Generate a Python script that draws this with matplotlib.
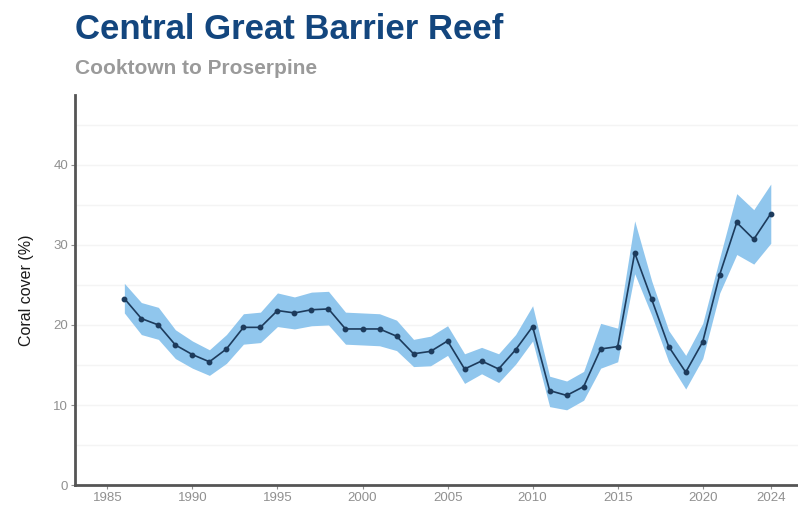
import numpy as np
import matplotlib.pyplot as plt

# Mean hard coral cover per survey year with its confidence band
years = np.arange(1986, 2025)
cover = [23.3, 20.8, 20.0, 17.5, 16.3, 15.4, 17.0, 19.7, 19.7, 21.8,
         21.5, 21.9, 22.0, 19.5, 19.5, 19.5, 18.6, 16.4, 16.7, 18.0,
         14.5, 15.5, 14.5, 16.9, 19.8, 11.8, 11.2, 12.3, 17.0, 17.3,
         29.0, 23.2, 17.3, 14.1, 17.9, 26.3, 32.8, 30.7, 33.9]
upper = [25.2, 22.8, 22.2, 19.4, 18.0, 16.9, 18.8, 21.4, 21.6, 24.0,
         23.5, 24.1, 24.2, 21.6, 21.5, 21.4, 20.6, 18.2, 18.6, 19.9,
         16.4, 17.2, 16.4, 18.8, 22.4, 13.6, 13.0, 14.2, 20.2, 19.6,
         33.0, 25.5, 19.3, 16.2, 20.2, 28.4, 36.4, 34.4, 37.6]
lower = [21.5, 18.8, 18.2, 15.8, 14.6, 13.7, 15.2, 17.6, 17.8, 19.8,
         19.5, 19.9, 20.0, 17.6, 17.5, 17.4, 16.8, 14.8, 14.9, 16.2,
         12.7, 13.9, 12.8, 15.1, 18.0, 9.8, 9.4, 10.6, 14.6, 15.4,
         26.4, 21.2, 15.4, 12.0, 15.8, 24.0, 28.8, 27.6, 30.2]
xticks = [1985, 1990, 1995, 2000, 2005, 2010, 2015, 2020, 2024]
yticks = [0, 10, 20, 30, 40]

plt.rcParams['font.family'] = ['Liberation Sans', 'DejaVu Sans']

fig = plt.figure(figsize=(7.98, 5.09), dpi=100)
ax = fig.add_axes([0.094, 0.047, 0.906, 0.766])

# faint horizontal guides
for g in np.arange(5, 50, 5):
    ax.axhline(g, color='#f4f4f4', lw=1.0, zorder=0)

ax.fill_between(years, lower, upper, color='#90c6ed', lw=0, zorder=1)
ax.plot(years, cover, color='#1d3b5c', lw=1.2, marker='o', ms=3.2, zorder=2)

ax.set_xlim(1983.1, 2025.6)
ax.set_ylim(0, 48.7)
ax.set_xticks(xticks)
ax.set_yticks(yticks)
ax.tick_params(colors='#909090', labelsize=9.5, length=3, width=0.8, pad=2)

for side in ['top', 'right']:
    ax.spines[side].set_visible(False)
ax.spines['left'].set_color('#555555')
ax.spines['left'].set_linewidth(2)
ax.spines['bottom'].set_color('#555555')
ax.spines['bottom'].set_linewidth(2)

ax.set_ylabel('Coral cover (%)', fontsize=11.5, color='#1a1a1a', labelpad=14)

fig.text(0.094, 0.942, 'Central Great Barrier Reef', fontsize=25, fontweight='bold',
         color='#13467e', va='center', ha='left')
fig.text(0.094, 0.866, 'Cooktown to Proserpine', fontsize=15, fontweight='bold',
         color='#9a9a9a', va='center', ha='left')

fig.savefig('out.png', dpi=100)
